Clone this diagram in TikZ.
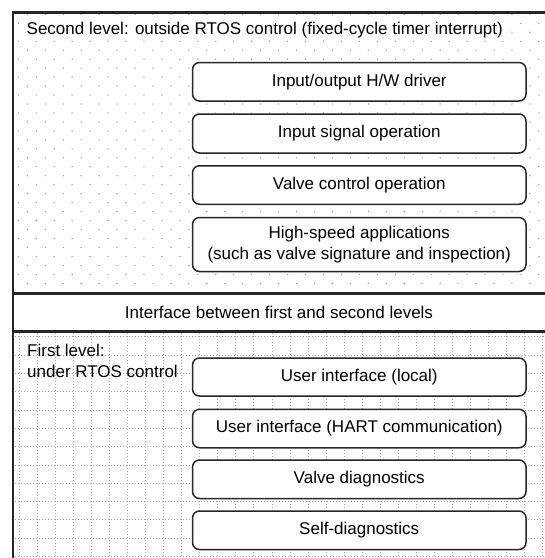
\documentclass[tikz,border=0pt]{standalone}
\usepackage{fontspec}
\setmainfont{Liberation Sans}
\begin{document}
\begin{tikzpicture}[x=1pt,y=-1pt,
  txt/.style={font=\fontsize{17}{21}\selectfont, inner sep=1pt},
  rbox/.style={draw=black!85, line width=1.5pt, rounded corners=7pt, fill=white,
    font=\fontsize{17}{20.5}\selectfont, align=center},
  border/.style={draw=black!85, line width=2.2pt},
  gridline/.style={draw=black!35, line width=1pt, dash pattern=on 1.2pt off 1.8pt},
  dotc/.style={fill=black!42}
]
\useasboundingbox (0,0) rectangle (545,558);
% top section dots
\foreach \k in {0,...,30}{
  \pgfmathsetmacro{\yy}{14.3+8.97*\k}
  \pgfmathsetmacro{\xo}{mod(\k,2)==1 ? 18.3 : 27.3}
  \foreach \j in {0,...,29}{
    \pgfmathsetmacro{\xx}{\xo+17.95*\j}
    \ifdim \xx pt < 544pt
      \fill[dotc] (\xx,\yy) circle (0.7);
    \fi
  }
}
% bottom grid
\foreach \j in {0,...,29}{
  \draw[gridline] ({19.3+18.05*\j},333) -- ({19.3+18.05*\j},558);
}
\foreach \k in {0,...,12}{
  \draw[gridline] (14.5,{336.9+18.3*\k}) -- (545,{336.9+18.3*\k});
}
% borders
\coordinate (tl) at (13.3,12.5);
\coordinate (tr) at (545,12.5);
\coordinate (bl) at (13.3,558);
\coordinate (s1l) at (13.3,293.5);
\coordinate (s1r) at (545,293.5);
\coordinate (s2l) at (13.3,331.5);
\coordinate (s2r) at (545,331.5);
\fill[white] (s1l) rectangle (s2r);
\draw[border] (bl) -- (tl) -- (tr);
\draw[border] (s1l) -- (s1r);
\draw[border] (s2l) -- (s2r);
% titles
\node[txt, fill=white, anchor=west] (title2) at (25.5,30) {Second level: outside RTOS control (fixed-cycle timer interrupt)};
\node[txt] (iface) at (279,312.5) {Interface between first and second levels};
\node[txt, anchor=north west, align=left, inner sep=0pt] (title1) at (27,343.5) {First level:\\under RTOS control};
% top boxes
\node[rbox, minimum width=333.5pt, minimum height=38.5pt] (b1) at (359.25,81.75) {Input/output H/W driver};
\node[rbox, minimum width=333.5pt, minimum height=39pt] (b2) at (359.25,133.5) {Input signal operation};
\node[rbox, minimum width=333.5pt, minimum height=38.5pt] (b3) at (359.25,185) {Valve control operation};
\node[rbox, minimum width=333.5pt, minimum height=54pt] (b4) at (359.25,244.5) {High-speed applications\\(such as valve signature and inspection)};
% bottom boxes
\node[rbox, minimum width=333.5pt, minimum height=38pt] (c1) at (359.25,377) {User interface (local)};
\node[rbox, minimum width=333.5pt, minimum height=38.5pt] (c2) at (359.25,428.5) {User interface (HART communication)};
\node[rbox, minimum width=333.5pt, minimum height=38.5pt] (c3) at (359.25,479.25) {Valve diagnostics};
\node[rbox, minimum width=333.5pt, minimum height=38.5pt] (c4) at (359.25,530.25) {Self-diagnostics};
\end{tikzpicture}
\end{document}
